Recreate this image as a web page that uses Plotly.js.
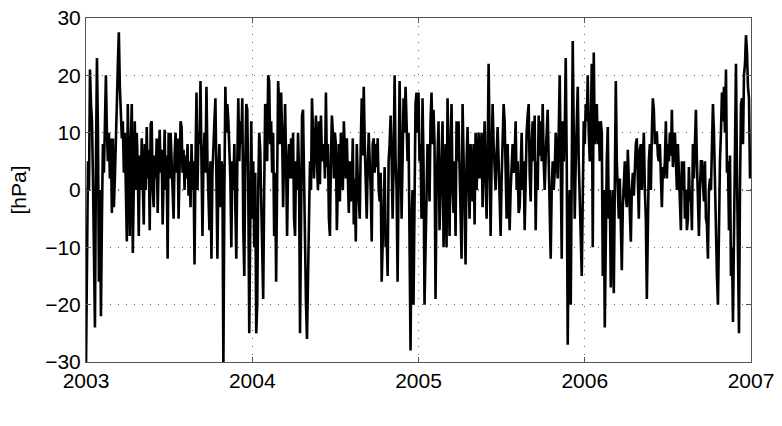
<!DOCTYPE html>
<html>
<head>
<meta charset="utf-8">
<script src="https://cdn.plot.ly/plotly-3.0.1.min.js"></script>
<style>
  html, body { margin: 0; padding: 0; background: #fff; }
  #C1 { width: 782px; height: 426px; }
</style>
</head>
<body>
<div id="C1"></div>
<script>
// pressure anomaly [hPa], evenly spaced through each year
const p2003 = [-31,-5,5,0,21,15,12,2,-10,-24,5,23,10,-16,0,-22,-5,8,3,14,20,10,5,10,2,9,-4,9,-3,2,
  12,15,22,27.5,18,12,9,12,3,10,-2,-9,15,5,-8,8,15,-11,5,12,0,10,4,-8,6,0,9,3,-6,8,
  0,11,2,7,-7,11.5,12,0,-3,6,2,9,-4,5,10.5,3,7,-6,4,10.5,0,6,-12,10,2,10,5,0,-5,6,
  10,3,9,-5,5,12,11,3,7,0,6,2,8,-1,5,-3,8,0,5,-13,5,17,0,10,8,19,5,-8,5,10,
  3,18,5,0,-7,5,-12,3,10,12,16,5,-12,3,8,-3,5,4,-31,0,18,10,15,12,8,2,-10,5,0,8,
  -3,-12,5,16,5,12,8,16,-7,-15,5,15,14,0,-25,0,12];

const p2004 = [-5,5,-10,3,-25,-20,0,10,7,0,-10,-19,0,15,14,5,20,19,8,12,3,10,-8,3,-16,5,19,15,8,17,
  10,-3,5,15,5,-8,4,8,2,9,2,10,-5,-8,5,0,10,3,-25,-5,13,14,0,-5,-20,-26,-15,-5,5,0,
  16,10,2,8,13,5,0,12,1,13,6,5,8,2,17,4,8,-5,-8,5,13,10,2,10,8,-7,3,8,-2,10,
  5,0,12,8,2,9,0,-4,5,-2,0,9,-6,2,-9,8,2,-2,-5,8,16,6,18,8,2,-5,4,10,5,0,
  -9,8,9,3,8,4,9,0,-2,3,-16,-8,0,4,-10,-8,-15,5,8,13,6,-5,5,20,5,0,-16,5,19,8,
  -5,5,16,10,18,12,5,10,-10,-28,-5,0,-20,5,15,17,10];

const p2005 = [17,5,8,-5,16,5,-20,-10,0,8,5,-2,12,17,8,14,8,-19,0,5,12,-7,0,6,12,-10,2,8,-10,16,
  5,-8,8,15,0,-4,5,-8,12,5,12,5,0,-12,15,5,0,-13,5,11,2,-5,8,3,-2,8,-6,10,0,5,
  10,2,6,10,-3,5,12,3,-5,5,22,8,-8,5,15,8,2,0,6,11,5,-3,-8,2,8,15,12,5,-5,8,
  -3,-7,0,4,8,3,6,12,0,5,-4,-3,5,10,0,5,-7,4,10,13,15,3,-2,8,12,5,13,-7,5,0,
  13,6,12,5,15,5,0,6,12,14,5,-3,-12,0,5,0,3,10,5,2,10,20,5,-12,12,5,10,23,5,-27,
  -5,0,-20,2,26,10,-5,5,15,18,5,0,-8,-15,5,12];

const p2006 = [8,15,12,20,10,5,10,22,-10,24,8,10,15,8,12,5,12,10,-15,0,-24,-5,5,11,-5,0,-17,-5,0,-18,
  5,19,5,-2,-5,2,-6,-14,-3,2,5,-1,-3,7,2,-2,-9,0,3,-1,5,8,9,3,-5,7,8,0,4,10,
  0,-5,-19,0,5,8,0,10,16,14,8,10,10,6,5,8,3,-3,4,2,5,12,2,8,5,10,6,14,4,8,
  10,5,0,8,2,-3,-7,5,0,5,-5,0,-7,-5,4,-2,0,-7,8,2,8,14,5,0,-8,0,5,5,0,-2,
  5,-5,-6,-12,0,2,0,8,15,10,0,-10,-15,-20,-5,5,10,17,12,18,10,21,3,5,-7,6,-15,-10,-23,-5,
  5,22,3,-15,-25,0,15,16,8,20,22,27,24,18,16,2];

const years = [2003, 2004, 2005, 2006];
const series = [p2003, p2004, p2005, p2006];

const tArr = [];
const pArr = [];
series.forEach((vals, k) => {
  vals.forEach((v, i) => {
    tArr.push(years[k] + i / vals.length);
    pArr.push(v);
  });
});

const tickFont = { family: "Liberation Sans, Arial, sans-serif", size: 21, color: "#000" };

const data = [{
  x: tArr,
  y: pArr,
  mode: "lines",
  type: "scatter",
  line: { color: "#000", width: 2.6 },
  hoverinfo: "skip"
}];

const layout = {
  width: 782,
  height: 426,
  margin: { l: 86, r: 31, t: 18, b: 64 },
  paper_bgcolor: "#fff",
  plot_bgcolor: "#fff",
  showlegend: false,
  xaxis: {
    range: [2003, 2007],
    tick0: 2003,
    dtick: 1,
    tickformat: "d",
    ticks: "inside",
    ticklen: 5,
    tickcolor: "#555",
    showline: true,
    linecolor: "#555",
    linewidth: 1,
    mirror: "ticks",
    showgrid: true,
    gridcolor: "#666",
    griddash: "1px,7px",
    gridwidth: 1.3,
    zeroline: false,
    tickfont: tickFont
  },
  yaxis: {
    range: [-30, 30],
    tick0: -30,
    dtick: 10,
    ticks: "inside",
    ticklen: 5,
    tickcolor: "#555",
    showline: true,
    linecolor: "#555",
    linewidth: 1,
    mirror: "ticks",
    showgrid: true,
    gridcolor: "#666",
    griddash: "1px,7px",
    gridwidth: 1.3,
    zeroline: false,
    tickfont: tickFont,
    title: { text: "[hPa]", font: { family: "Liberation Sans, Arial, sans-serif", size: 21, color: "#000" }, standoff: 12 }
  }
};

Plotly.newPlot("C1", data, layout, { displayModeBar: false, staticPlot: true });
</script>
</body>
</html>
